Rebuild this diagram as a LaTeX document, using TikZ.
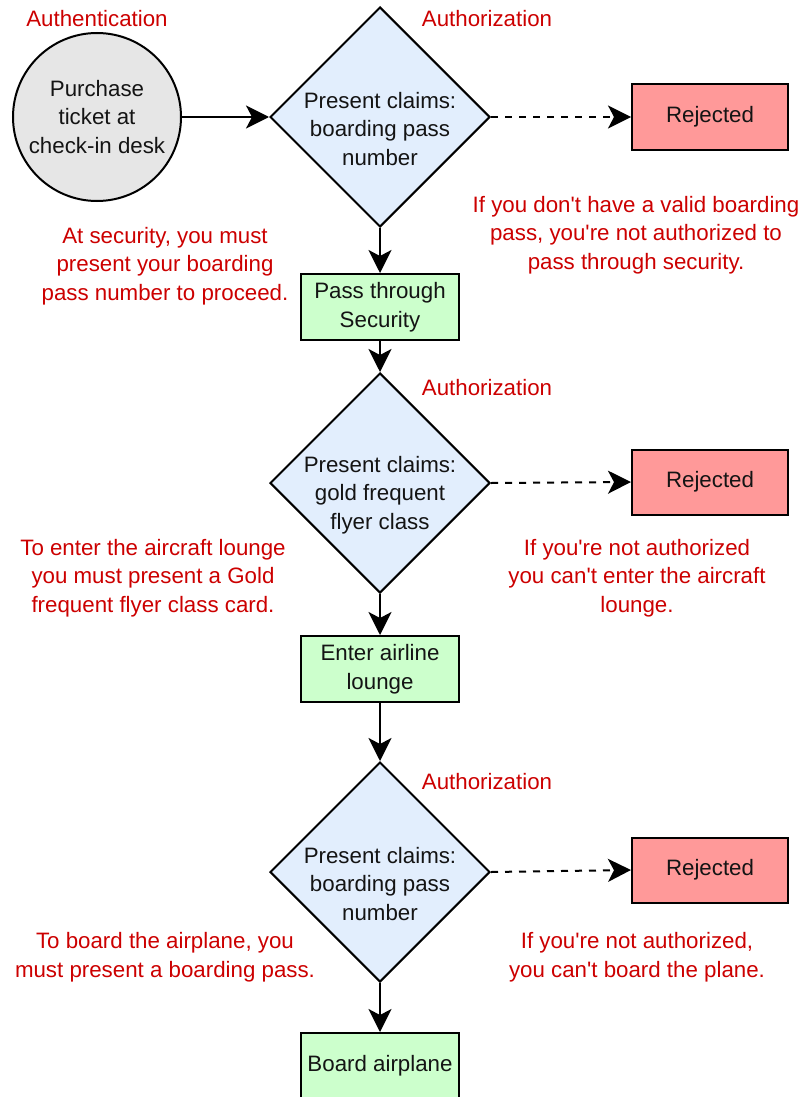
\documentclass[tikz,border=0pt]{standalone}
\usepackage{fontspec}
\setmainfont{Liberation Sans}[Ligatures=TeXOff]
\usetikzlibrary{shapes.geometric,arrows.meta}
\definecolor{notered}{HTML}{CC0000}
\definecolor{startgray}{HTML}{E6E6E6}
\definecolor{claimblue}{HTML}{E2EEFD}
\definecolor{passgreen}{HTML}{CCFFCC}
\definecolor{rejectred}{HTML}{FF9999}
\tikzset{
  txt/.style={font=\fontsize{22.3}{28.5}\selectfont, align=center, text=black!92},
  base/.style={txt, draw=black, line width=2pt},
  startnode/.style={base, circle, fill=startgray, minimum size=168pt, inner sep=0pt},
  claim/.style={base, diamond, fill=claimblue, minimum width=220pt, minimum height=220pt, inner sep=0pt, aspect=1},
  claimtext/.style={txt, inner sep=0pt, yshift=-12pt},
  stepbox/.style={base, rectangle, fill=passgreen, minimum width=158pt, minimum height=66pt, inner sep=0pt},
  rejectbox/.style={base, rectangle, fill=rejectred, minimum width=156pt, minimum height=65pt, inner sep=0pt},
  note/.style={txt, text=notered, inner sep=0pt},
  flow/.style={line width=2pt, -{Stealth[length=23pt,width=23pt,inset=6pt]}},
  deny/.style={flow, dash pattern=on 7pt off 7pt},
}
\begin{document}
\begin{tikzpicture}[x=1pt, y=-1pt]
  \useasboundingbox (0,0) rectangle (803,1097);
  \clip (0,0) rectangle (803,1097);

  % start
  \node[startnode] (buy) at (97,117) {Purchase\\ticket at\\check-in desk};

  % first check: boarding pass at security
  \node[claim] (c1) at (380,117) {};
  \node[claimtext] (c1t) at (c1.center) {Present claims:\\boarding pass\\number};
  \node[rejectbox] (r1) at (710,117) {Rejected};
  \node[stepbox] (sec) at (380,307) {Pass through\\Security};

  % second check: lounge access
  \node[claim] (c2) at (380,483) {};
  \node[claimtext] (c2t) at (c2.center) {Present claims:\\gold frequent\\flyer class};
  \node[rejectbox] (r2) at (710,482) {Rejected};
  \node[stepbox] (lounge) at (380,669) {Enter airline\\lounge};

  % third check: boarding
  \node[claim] (c3) at (380,872) {};
  \node[claimtext] (c3t) at (c3.center) {Present claims:\\boarding pass\\number};
  \node[rejectbox] (r3) at (710,870) {Rejected};
  \node[stepbox] (board) at (380,1066) {Board airplane};

  % flow
  \draw[flow] (buy) -- (c1);
  \draw[flow] (c1) -- (sec);
  \draw[flow] (sec) -- (c2);
  \draw[flow] (c2) -- (lounge);
  \draw[flow] (lounge) -- (c3);
  \draw[flow] (c3) -- (board.north);
  \draw[deny] (c1.east) -- (r1.west);
  \draw[deny] (c2.east) -- (r2.west);
  \draw[deny] (c3.east) -- (r3.west);

  % captions
  \node[note] (authn) at (97,19) {Authentication};
  \node[note] (authz1) at (487,19) {Authorization};
  \node[note] (authz2) at (487,388) {Authorization};
  \node[note] (authz3) at (487,782) {Authorization};

  \node[note] (n1l) at (165,266) {At security, you must\\present your boarding\\pass number to proceed.};
  \node[note] (n1r) at (636,235) {If you don't have a valid boarding\\pass, you're not authorized to\\pass through security.};
  \node[note] (n2l) at (153,578) {To enter the aircraft lounge\\you must present a Gold\\frequent flyer class card.};
  \node[note] (n2r) at (637,578) {If you're not authorized\\you can't enter the aircraft\\lounge.};
  \node[note] (n3l) at (165,957) {To board the airplane, you\\must present a boarding pass.};
  \node[note] (n3r) at (637,957) {If you're not authorized,\\you can't board the plane.};
\end{tikzpicture}
\end{document}
